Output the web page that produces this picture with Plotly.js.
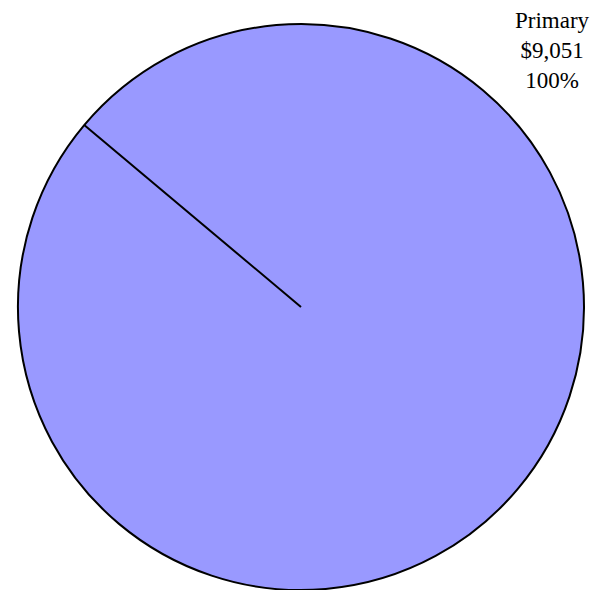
<!DOCTYPE html>
<html>
<head>
<meta charset="utf-8">
<script src="https://cdn.plot.ly/plotly-3.0.1.min.js"></script>
<style>html,body{margin:0;padding:0;background:#fff;}#chart{width:596px;height:590px;}</style>
</head>
<body>
<div id="chart"></div>
<script>
const labels = ['Primary'];
const values = [9051];
const sliceColors = ['#9999FF'];

const total = values.reduce((a, b) => a + b, 0);
const rotationDeg = -50;
const W = 596, H = 590;
const margin = {l: 17, r: 11, t: 24, b: 0, pad: 0};
const plotW = W - margin.l - margin.r;
const plotH = H - margin.t - margin.b;
const radius = Math.min(plotW, plotH) / 2;
const theta = (90 - rotationDeg) * Math.PI / 180;

const fmt = v => '$' + v.toLocaleString('en-US');
const annText = labels.map((l, i) => l + '<br>' + fmt(values[i]) + '<br>' + Math.round(values[i] / total * 100) + '%').join('<br>');

const trace = {
  type: 'pie',
  labels: labels,
  values: values,
  sort: false,
  rotation: rotationDeg,
  textinfo: 'none',
  hoverinfo: 'label+value+percent',
  marker: {colors: sliceColors, line: {color: '#000000', width: 2}},
  showlegend: false
};

const layout = {
  width: W,
  height: H,
  margin: margin,
  paper_bgcolor: '#ffffff',
  plot_bgcolor: '#ffffff',
  showlegend: false,
  font: {family: '"Liberation Serif", "Times New Roman", serif', color: '#000000'},
  shapes: [{
    type: 'line', xref: 'paper', yref: 'paper',
    x0: 0.5, y0: 0.5,
    x1: 0.5 + radius * Math.cos(theta) / plotW,
    y1: 0.5 + radius * Math.sin(theta) / plotH,
    line: {color: '#000000', width: 2}
  }],
  annotations: [{
    xref: 'paper', yref: 'paper',
    x: (552 - margin.l) / plotW,
    y: (H - 6 - margin.b) / plotH,
    xanchor: 'center', yanchor: 'top',
    showarrow: false,
    align: 'center',
    text: annText,
    font: {family: '"Liberation Serif", "Times New Roman", serif', size: 23, color: '#000000'}
  }]
};

Plotly.newPlot('chart', [trace], layout, {displayModeBar: false, staticPlot: true});
</script>
</body>
</html>
